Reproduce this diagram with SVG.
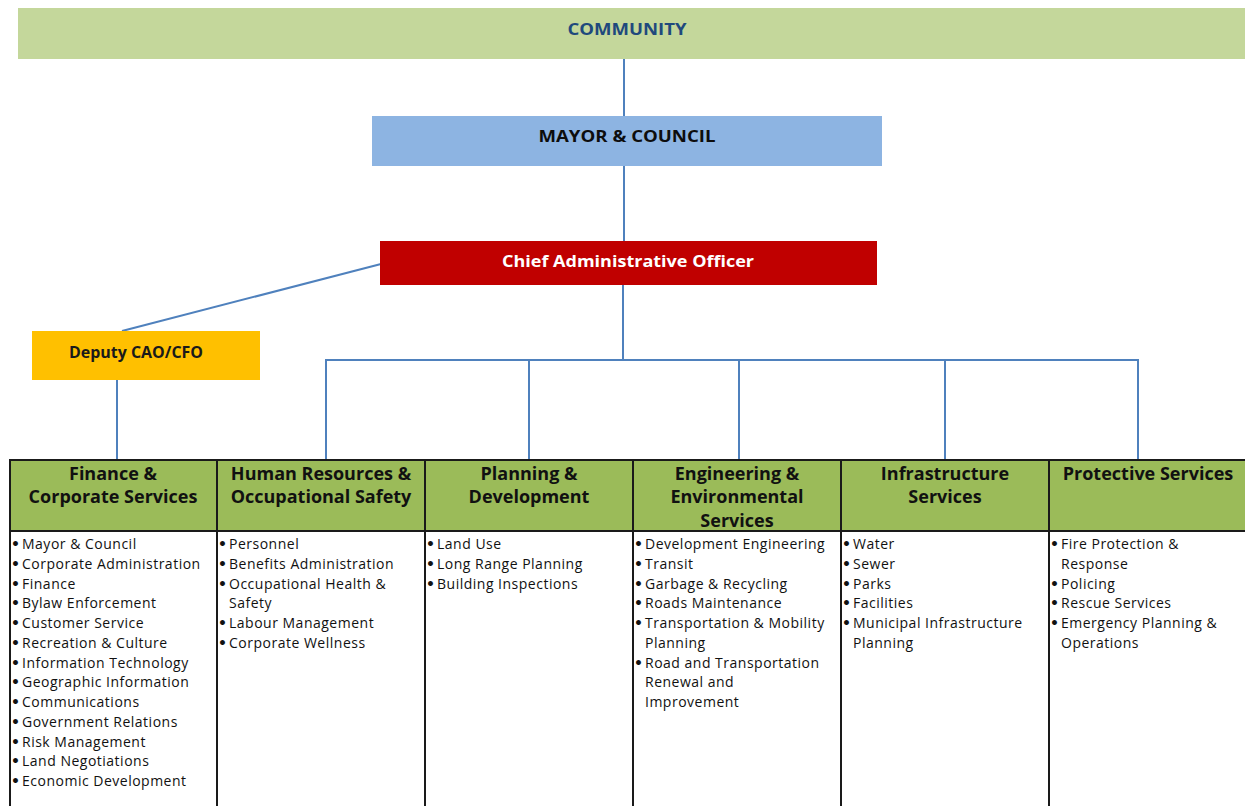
<svg xmlns="http://www.w3.org/2000/svg" width="1245" height="806" viewBox="0 0 1245 806">
  <style>
    .box-title { font-family: "Open Sans", "Liberation Sans", sans-serif; font-weight: 700; font-size: 16px; text-anchor: middle; }
    .conn { stroke: #4F81BD; stroke-width: 2; fill: none; }
    .grid { stroke: #1a1a1a; stroke-width: 2; fill: none; }
    .head { font-family: "Open Sans", "Liberation Sans", sans-serif; font-weight: 700; font-size: 18px; fill: #111; text-anchor: middle; }
    .item { font-family: "Open Sans", "Liberation Sans", sans-serif; font-size: 14px; letter-spacing: 0.5px; fill: #111; }
    .bul { font-family: "DejaVu Sans", sans-serif; font-size: 14px; font-weight: 700; fill: #111; }
  </style>

  <rect width="1245" height="806" fill="#ffffff"/>

  <!-- connectors -->
  <g id="connectors">
    <line class="conn" x1="624" y1="59" x2="624" y2="116"/>
    <line class="conn" x1="624" y1="166" x2="624" y2="241"/>
    <line class="conn" x1="381" y1="264" x2="122" y2="331"/>
    <line class="conn" x1="117" y1="380" x2="117" y2="460"/>
    <line class="conn" x1="623" y1="285" x2="623" y2="360"/>
    <polyline class="conn" points="326,460 326,360 1138,360 1138,460"/>
    <line class="conn" x1="529" y1="360" x2="529" y2="460"/>
    <line class="conn" x1="739" y1="360" x2="739" y2="460"/>
    <line class="conn" x1="945" y1="360" x2="945" y2="460"/>
  </g>

  <g id="community">
    <rect x="18" y="8" width="1227" height="51" fill="#C4D79B"/>
    <text class="box-title" x="627" y="35" fill="#1F497D" textLength="119" lengthAdjust="spacingAndGlyphs">COMMUNITY</text>
  </g>

  <g id="mayor-council">
    <rect x="372" y="116" width="510" height="50" fill="#8DB4E2"/>
    <text class="box-title" x="627" y="142" fill="#0d0d0d" textLength="177" lengthAdjust="spacingAndGlyphs">MAYOR &amp; COUNCIL</text>
  </g>

  <g id="cao">
    <rect x="380" y="241" width="497" height="44" fill="#C00000"/>
    <text class="box-title" x="628" y="267" fill="#ffffff" textLength="252" lengthAdjust="spacingAndGlyphs">Chief Administrative Officer</text>
  </g>

  <g id="deputy-cao-cfo">
    <rect x="32" y="331" width="228" height="49" fill="#FFC000"/>
    <text class="box-title" x="136" y="358" fill="#1a1a1a" textLength="134" lengthAdjust="spacingAndGlyphs">Deputy CAO/CFO</text>
  </g>

  <!-- department table -->
  <g id="table-frame">
    <rect x="10" y="460" width="1235" height="71" fill="#9BBB59"/>
    <line class="grid" x1="10" y1="460" x2="1245" y2="460"/>
    <line class="grid" x1="10" y1="531" x2="1245" y2="531"/>
    <line class="grid" x1="10" y1="459" x2="10" y2="806"/>
    <line class="grid" x1="217" y1="459" x2="217" y2="806"/>
    <line class="grid" x1="425" y1="459" x2="425" y2="806"/>
    <line class="grid" x1="633" y1="459" x2="633" y2="806"/>
    <line class="grid" x1="841" y1="459" x2="841" y2="806"/>
    <line class="grid" x1="1049" y1="459" x2="1049" y2="806"/>
  </g>

  <g id="finance">
    <text class="head" x="113" y="480">Finance &amp;</text>
    <text class="head" x="113" y="503">Corporate Services</text>
    <g class="bul">
      <text x="11" y="549">•</text><text x="11" y="568.75">•</text><text x="11" y="588.5">•</text><text x="11" y="608.25">•</text>
      <text x="11" y="628">•</text><text x="11" y="647.75">•</text><text x="11" y="667.5">•</text><text x="11" y="687.25">•</text>
      <text x="11" y="707">•</text><text x="11" y="726.75">•</text><text x="11" y="746.5">•</text><text x="11" y="766.25">•</text>
      <text x="11" y="786">•</text>
    </g>
    <g class="item">
      <text x="22" y="549">Mayor &amp; Council</text>
      <text x="22" y="568.75">Corporate Administration</text>
      <text x="22" y="588.5">Finance</text>
      <text x="22" y="608.25">Bylaw Enforcement</text>
      <text x="22" y="628">Customer Service</text>
      <text x="22" y="647.75">Recreation &amp; Culture</text>
      <text x="22" y="667.5">Information Technology</text>
      <text x="22" y="687.25">Geographic Information</text>
      <text x="22" y="707">Communications</text>
      <text x="22" y="726.75">Government Relations</text>
      <text x="22" y="746.5">Risk Management</text>
      <text x="22" y="766.25">Land Negotiations</text>
      <text x="22" y="786">Economic Development</text>
    </g>
  </g>

  <g id="human-resources">
    <text class="head" x="321" y="480">Human Resources &amp;</text>
    <text class="head" x="321" y="503">Occupational Safety</text>
    <g class="bul">
      <text x="218" y="549">•</text><text x="218" y="568.75">•</text><text x="218" y="588.5">•</text>
      <text x="218" y="628">•</text><text x="218" y="647.75">•</text>
    </g>
    <g class="item">
      <text x="229" y="549">Personnel</text>
      <text x="229" y="568.75">Benefits Administration</text>
      <text x="229" y="588.5">Occupational Health &amp;</text>
      <text x="229" y="608.25">Safety</text>
      <text x="229" y="628">Labour Management</text>
      <text x="229" y="647.75">Corporate Wellness</text>
    </g>
  </g>

  <g id="planning">
    <text class="head" x="529" y="480">Planning &amp;</text>
    <text class="head" x="529" y="503">Development</text>
    <g class="bul">
      <text x="426" y="549">•</text><text x="426" y="568.75">•</text><text x="426" y="588.5">•</text>
    </g>
    <g class="item">
      <text x="437" y="549">Land Use</text>
      <text x="437" y="568.75">Long Range Planning</text>
      <text x="437" y="588.5">Building Inspections</text>
    </g>
  </g>

  <g id="engineering">
    <text class="head" x="737" y="480">Engineering &amp;</text>
    <text class="head" x="737" y="503">Environmental</text>
    <text class="head" x="737" y="527">Services</text>
    <g class="bul">
      <text x="634" y="549">•</text><text x="634" y="568.75">•</text><text x="634" y="588.5">•</text><text x="634" y="608.25">•</text>
      <text x="634" y="628">•</text><text x="634" y="667.5">•</text>
    </g>
    <g class="item">
      <text x="645" y="549">Development Engineering</text>
      <text x="645" y="568.75">Transit</text>
      <text x="645" y="588.5">Garbage &amp; Recycling</text>
      <text x="645" y="608.25">Roads Maintenance</text>
      <text x="645" y="628">Transportation &amp; Mobility</text>
      <text x="645" y="647.75">Planning</text>
      <text x="645" y="667.5">Road and Transportation</text>
      <text x="645" y="687.25">Renewal and</text>
      <text x="645" y="707">Improvement</text>
    </g>
  </g>

  <g id="infrastructure">
    <text class="head" x="945" y="480">Infrastructure</text>
    <text class="head" x="945" y="503">Services</text>
    <g class="bul">
      <text x="842" y="549">•</text><text x="842" y="568.75">•</text><text x="842" y="588.5">•</text><text x="842" y="608.25">•</text>
      <text x="842" y="628">•</text>
    </g>
    <g class="item">
      <text x="853" y="549">Water</text>
      <text x="853" y="568.75">Sewer</text>
      <text x="853" y="588.5">Parks</text>
      <text x="853" y="608.25">Facilities</text>
      <text x="853" y="628">Municipal Infrastructure</text>
      <text x="853" y="647.75">Planning</text>
    </g>
  </g>

  <g id="protective">
    <text class="head" x="1148" y="480">Protective Services</text>
    <g class="bul">
      <text x="1050" y="549">•</text><text x="1050" y="588.5">•</text><text x="1050" y="608.25">•</text>
      <text x="1050" y="628">•</text>
    </g>
    <g class="item">
      <text x="1061" y="549">Fire Protection &amp;</text>
      <text x="1061" y="568.75">Response</text>
      <text x="1061" y="588.5">Policing</text>
      <text x="1061" y="608.25">Rescue Services</text>
      <text x="1061" y="628">Emergency Planning &amp;</text>
      <text x="1061" y="647.75">Operations</text>
    </g>
  </g>
</svg>
